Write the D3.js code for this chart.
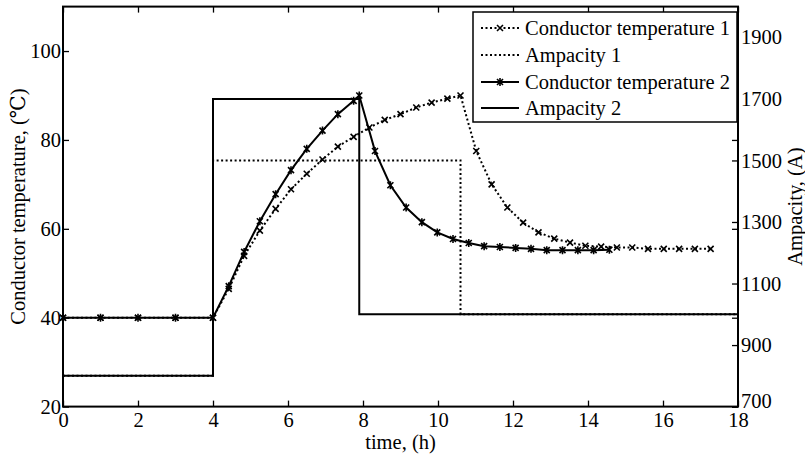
<!DOCTYPE html>
<html><head><meta charset="utf-8">
<script src="https://cdn.jsdelivr.net/npm/d3@7"></script>
<style>
html,body{margin:0;padding:0;background:#fff;}
svg text{font-family:"Liberation Serif","Times New Roman","DejaVu Serif",serif !important;fill:#000;}
</style>
</head><body>
<svg id="c" width="805" height="458"></svg>
<script>
// ---- data ----
const xTicks = [0,2,4,6,8,10,12,14,16,18];
const yLeftTicks = [20,40,60,80,100];
const yRightTicks = [700,900,1100,1300,1500,1700,1900];

const time1 = [0,1,2,3,4,4.42,4.83,5.25,5.67,6.08,6.5,6.92,7.33,7.75,8.17,8.58,9.0,9.42,9.83,10.25,10.6,11.02,11.43,11.85,12.27,12.68,13.1,13.52,13.93,14.35,14.77,15.18,15.6,16.02,16.43,16.85,17.27];
const temp1 = [40,40,40,40,40,46.5,53.9,59.6,64.5,68.9,72.4,75.6,78.5,80.7,82.8,84.5,85.8,87.3,88.4,89.3,90.0,77.5,70.0,64.8,61.4,59.2,57.8,56.9,56.2,56.0,55.8,55.8,55.5,55.5,55.5,55.5,55.5];

const time2 = [0,1,2,3,4,4.42,4.83,5.25,5.67,6.08,6.5,6.92,7.33,7.75,7.9,8.32,8.73,9.15,9.57,9.98,10.4,10.82,11.23,11.65,12.07,12.48,12.9,13.32,13.73,14.15,14.57];
const temp2 = [40,40,40,40,40,47.1,54.8,61.7,67.8,73.2,78.0,82.1,85.8,88.8,90.0,77.5,69.8,64.8,61.5,59.2,57.7,56.8,56.1,55.9,55.7,55.5,55.2,55.2,55.2,55.2,55.3];

const ampTime1 = [0,4,4,10.6,10.6,18];
const ampVal1  = [800,800,1500,1500,1000,1000];
const ampTime2 = [0,4,4,7.9,7.9,18];
const ampVal2  = [800,800,1700,1700,1000,1000];

const legendLabels = ["Conductor temperature 1","Ampacity 1","Conductor temperature 2","Ampacity 2"];

// ---- layout ----
const L=63, R=738, T=6.6, B=406.6;
const svg = d3.select("#c");
const x = d3.scaleLinear().domain([0,18]).range([L,R]);
const yL = d3.scaleLinear().domain([20,110]).range([B,T]);
const yR = d3.scaleLinear().domain([700,2000]).range([B,T]);
const FS = 20.5;
const FONT = "'Liberation Serif','Times New Roman','DejaVu Serif',serif";

function styleAxis(g){
  g.attr("font-family",null).attr("font-size",null);
  g.select(".domain").remove();
  g.selectAll(".tick line").attr("stroke","#000").attr("stroke-width",1.3);
  g.selectAll(".tick text").style("font-size",FS+"px").style("font-family",FONT);
}

// axes
svg.append("g").attr("transform",`translate(0,${B})`)
  .call(d3.axisBottom(x).tickValues(xTicks).tickFormat(d3.format("d")).tickSizeInner(-6).tickSizeOuter(0).tickPadding(6))
  .call(styleAxis);
svg.append("g").attr("transform",`translate(0,${T})`)
  .call(d3.axisTop(x).tickValues(xTicks).tickFormat("").tickSizeInner(-6).tickSizeOuter(0))
  .call(styleAxis);
svg.append("g").attr("transform",`translate(${L},0)`)
  .call(d3.axisLeft(yL).tickValues(yLeftTicks).tickFormat(d3.format("d")).tickSizeInner(-6).tickSizeOuter(0).tickPadding(2))
  .call(styleAxis);
svg.append("g").attr("transform",`translate(${R},0)`)
  .call(d3.axisRight(yL).tickValues(yLeftTicks).tickFormat("").tickSizeInner(-6).tickSizeOuter(0))
  .call(styleAxis);
const rAx = svg.append("g").attr("transform",`translate(${R},0)`)
  .call(d3.axisRight(yR).tickValues(yRightTicks).tickFormat(d3.format("d")).tickSizeInner(-6).tickSizeOuter(0).tickPadding(3))
  .call(styleAxis);
// lift the bottom right label a little so it clears the "18" below
rAx.selectAll(".tick text").filter(d=>d===700).attr("dy","0.05em");

// box
svg.append("rect").attr("x",L).attr("y",T).attr("width",R-L).attr("height",B-T)
  .attr("fill","none").attr("stroke","#000").attr("stroke-width",2);

// axis labels
function label(sel){ return sel.style("font-size",FS+"px").style("font-family",FONT); }
label(svg.append("text").attr("x",(L+R)/2).attr("y",449).attr("text-anchor","middle").text("time, (h)"));
label(svg.append("text").attr("transform",`translate(25,${(T+B)/2}) rotate(-90)`).attr("text-anchor","middle").text("Conductor temperature, (℃)"));
label(svg.append("text").attr("transform",`translate(802,${(T+B)/2}) rotate(-90)`).attr("text-anchor","middle").text("Ampacity, (A)"));

const DOT = "2,2.5";
const lineT = d3.line().x(d=>x(d[0])).y(d=>yL(d[1]));
const lineA = d3.line().x(d=>x(d[0])).y(d=>yR(d[1]));

function xMarker(g, cx, cy, s){
  g.append("path").attr("d",`M${cx-s},${cy-s}L${cx+s},${cy+s}M${cx-s},${cy+s}L${cx+s},${cy-s}`)
    .attr("stroke","#000").attr("stroke-width",1.6).attr("fill","none");
}
function starMarker(g, cx, cy, s){
  g.append("path").attr("d",`M${cx-s},${cy-s}L${cx+s},${cy+s}M${cx-s},${cy+s}L${cx+s},${cy-s}M${cx},${cy-s-1}L${cx},${cy+s+1}`)
    .attr("stroke","#000").attr("stroke-width",1.6).attr("fill","none");
}

const plot = svg.append("g");
// Conductor temperature 1
const d1 = time1.map((t,i)=>[t,temp1[i]]);
plot.append("path").attr("d",lineT(d1)).attr("fill","none").attr("stroke","#000").attr("stroke-width",2).attr("stroke-dasharray",DOT);
const m1 = plot.append("g");
d1.forEach(d=>xMarker(m1,x(d[0]),yL(d[1]),3));
// Ampacity 1
const a1 = ampTime1.map((t,i)=>[t,ampVal1[i]]);
plot.append("path").attr("d",lineA(a1)).attr("fill","none").attr("stroke","#000").attr("stroke-width",2).attr("stroke-dasharray",DOT);
// Conductor temperature 2
const d2 = time2.map((t,i)=>[t,temp2[i]]);
plot.append("path").attr("d",lineT(d2)).attr("fill","none").attr("stroke","#000").attr("stroke-width",2);
const m2 = plot.append("g");
d2.forEach(d=>starMarker(m2,x(d[0]),yL(d[1]),3));
// Ampacity 2
const a2 = ampTime2.map((t,i)=>[t,ampVal2[i]]);
plot.append("path").attr("d",lineA(a2)).attr("fill","none").attr("stroke","#000").attr("stroke-width",2);

// legend
const lg = svg.append("g");
lg.append("rect").attr("x",473).attr("y",12).attr("width",264).attr("height",110)
  .attr("fill","#fff").attr("stroke","#000").attr("stroke-width",1.5);
const rowY = [28,55,82,108];
legendLabels.forEach((lab,i)=>{
  const y = rowY[i];
  const p = lg.append("line").attr("x1",481).attr("x2",519).attr("y1",y).attr("y2",y)
    .attr("stroke","#000").attr("stroke-width",2);
  if(i<2) p.attr("stroke-dasharray",DOT);
  if(i===0) xMarker(lg,500,y,3);
  if(i===2) starMarker(lg,500,y,3);
  label(lg.append("text").attr("x",525).attr("y",y+7).text(lab));
});
</script>
</body></html>
